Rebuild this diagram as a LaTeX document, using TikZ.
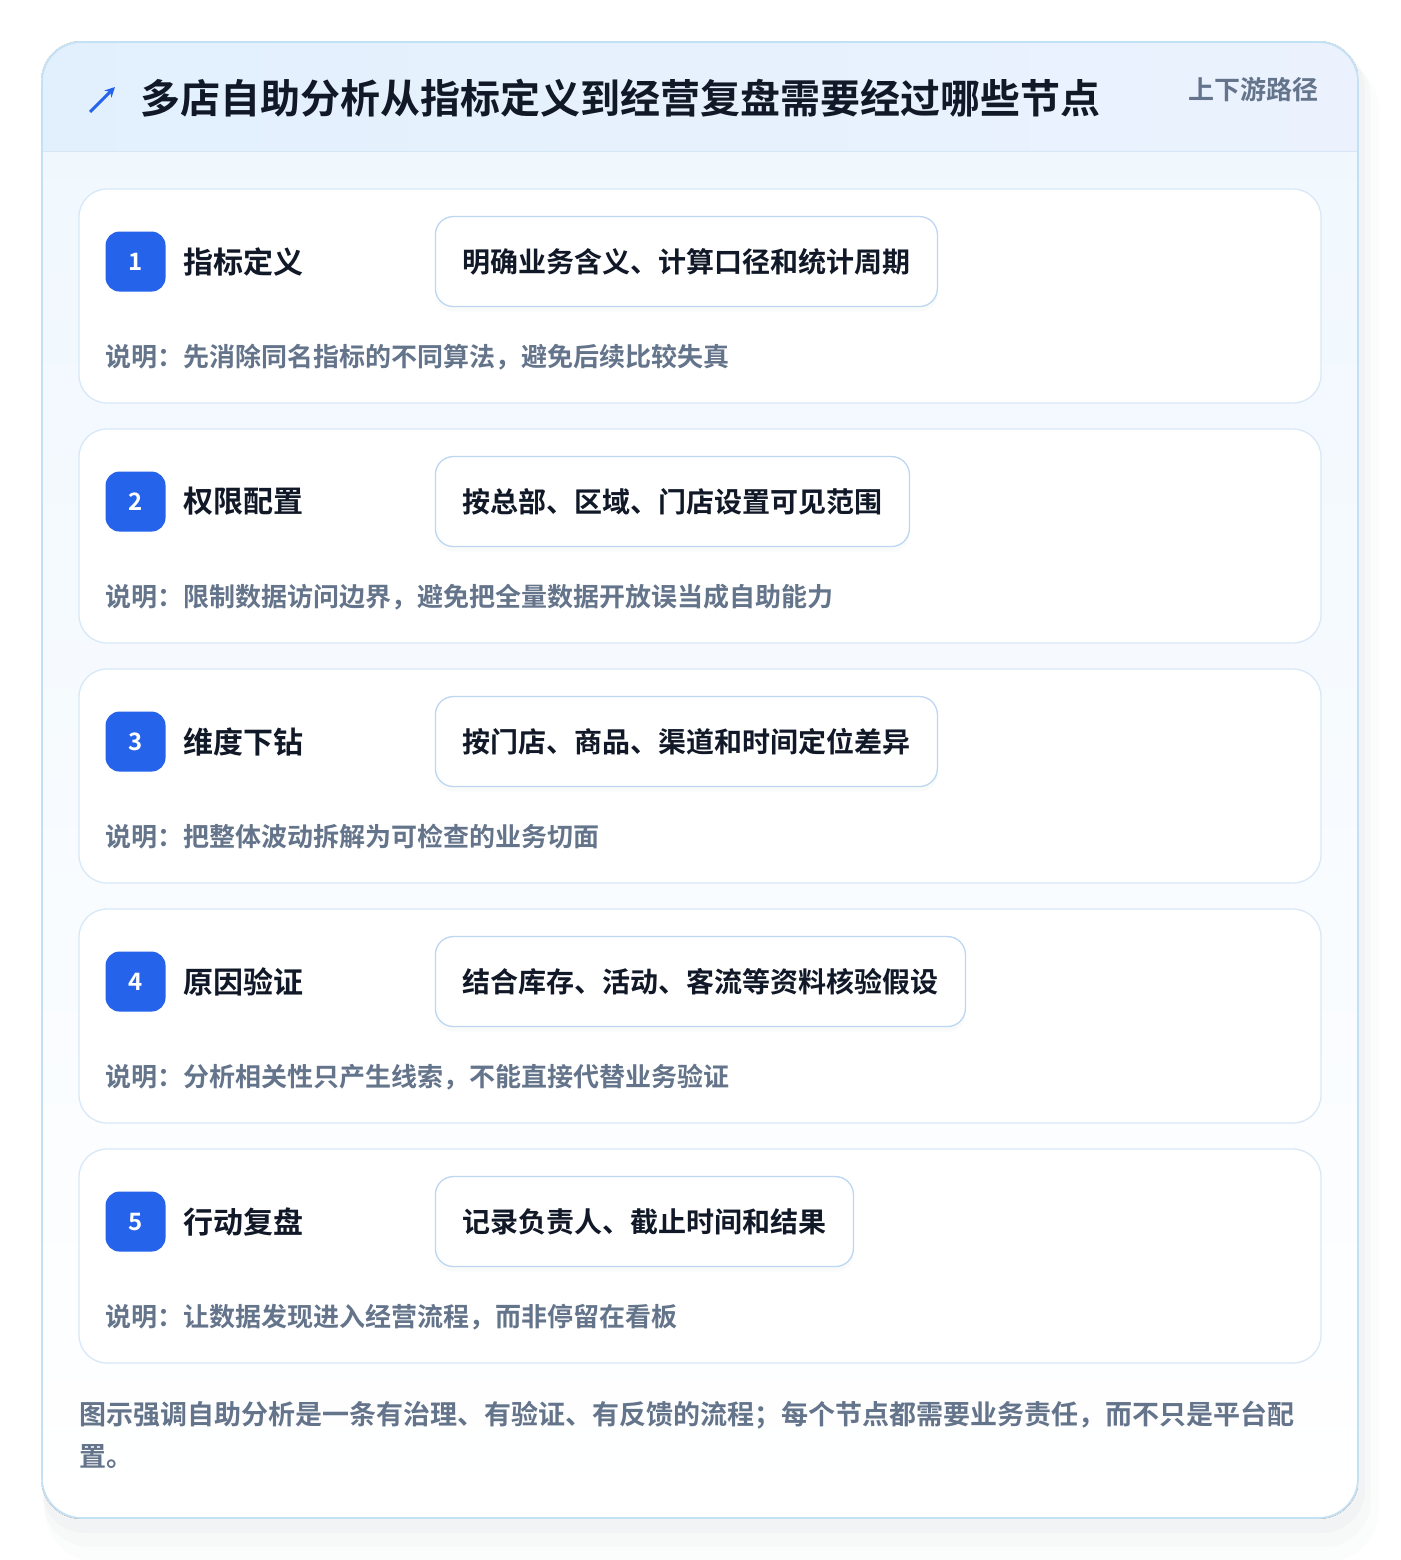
\documentclass[tikz,border=0pt]{standalone}
\usepackage{fontspec}
\setmainfont{Noto Sans CJK SC}[BoldFont=* Bold]
\usepackage{tikz}
\usetikzlibrary{positioning, calc, shadows, arrows.meta}
\definecolor{ink}{HTML}{111827}
\definecolor{muted}{HTML}{64748B}
\definecolor{badgeblue}{HTML}{2563EB}
\definecolor{framecol}{HTML}{C3E1F5}
\definecolor{cardline}{HTML}{D9E8F7}
\definecolor{tagline}{HTML}{BDD6F2}
\definecolor{headl}{HTML}{E2F0FD}
\definecolor{headr}{HTML}{EBF2FE}
\definecolor{headline}{HTML}{D5E6F6}
\definecolor{bodytop}{HTML}{EFF7FE}
\definecolor{shadowcol}{HTML}{9CA3AF}
\tikzstyle{frame} = [rectangle, rounded corners=40pt, minimum width=1316pt, minimum height=1476pt, draw=framecol, line width=1.6pt]
\tikzstyle{band} = [rectangle, minimum width=1316pt, minimum height=110pt, inner sep=0pt, left color=headl, right color=headr]
\tikzstyle{heading} = [inner sep=0pt, anchor=west, text=ink, font=\fontsize{40}{40}\selectfont\bfseries]
\tikzstyle{subhead} = [inner sep=0pt, anchor=west, text=muted, font=\fontsize{26}{26}\selectfont\bfseries]
\tikzstyle{card} = [rectangle, rounded corners=28pt, minimum width=1242pt, minimum height=214pt, draw=cardline, line width=1.3pt, fill=white]
\tikzstyle{badge} = [rectangle, rounded corners=14pt, minimum size=60pt, inner sep=0pt, fill=badgeblue, text=white, font=\fontsize{24}{24}\selectfont\bfseries]
\tikzstyle{steptitle} = [inner sep=0pt, anchor=west, text=ink, font=\fontsize{30}{30}\selectfont\bfseries]
\tikzstyle{tag} = [rectangle, rounded corners=18pt, minimum height=90pt, inner xsep=27pt, inner ysep=0pt, draw=tagline, line width=1.3pt, fill=white, anchor=west, text=ink, font=\fontsize{28}{28}\selectfont\bfseries, drop shadow={shadow xshift=0pt, shadow yshift=-5pt, opacity=0.05, fill=shadowcol}]
\tikzstyle{note} = [inner sep=0pt, anchor=west, text=muted, font=\fontsize{26}{26}\selectfont\bfseries]
\tikzstyle{footer} = [inner sep=0pt, anchor=west, text=muted, font=\fontsize{27}{27}\selectfont\bfseries]
\tikzstyle{icon} = [line width=3pt, draw=badgeblue, -{Stealth[length=10pt,width=10pt]}]

\begin{document}
\begin{tikzpicture}[x=1pt, y=-1pt, node distance=240pt]
    \useasboundingbox (0,0) rectangle (1400,1560);
    \fill [white] (0,0) rectangle (1400,1560);
    \node (frame) [frame, draw=none] at (700,780) {};
    % soft shadow
    \fill [shadowcol, opacity=0.03, rounded corners=50pt] ([shift={(4,18)}]frame.north west) rectangle ([shift={(20,42)}]frame.south east);
    \fill [shadowcol, opacity=0.04, rounded corners=46pt] ([shift={(2,10)}]frame.north west) rectangle ([shift={(12,28)}]frame.south east);
    \fill [shadowcol, opacity=0.05, rounded corners=42pt] ([shift={(1,5)}]frame.north west) rectangle ([shift={(6,14)}]frame.south east);
    \begin{scope}
        \clip [rounded corners=40pt] (frame.north west) rectangle (frame.south east);
        \fill [top color=bodytop, bottom color=white] (frame.north west) rectangle (frame.south east);
        \node (header) [band, below=0pt of frame.north] {};
        \draw [headline, line width=1.5pt] (header.south west) -- (header.south east);
    \end{scope}
    \node (frameline) [frame] at (700,780) {};

    \coordinate (icontail) at (90,112);
    \coordinate (iconhead) at (115,87);
    \draw [icon] (icontail) -- (iconhead);
    \node (title) [heading] at (140,98) {多店自助分析从指标定义到经营复盘需要经过哪些节点};
    \node (path) [subhead] at (1188,90) {上下游路径};

    \node (card1) [card] at (700,296) {};
    \node (card2) [card, below of=card1] {};
    \node (card3) [card, below of=card2] {};
    \node (card4) [card, below of=card3] {};
    \node (card5) [card, below of=card4] {};

    \node (badge1) [badge, below right=43pt and 27pt of card1.north west] {1};
    \node (step1) [steptitle, right=18pt of badge1] {指标定义};
    \node (tag1) [tag, right=269pt of badge1] {明确业务含义、计算口径和统计周期};
    \node (note1) [note] at ([yshift=-65pt]badge1.south west) {说明：先消除同名指标的不同算法，避免后续比较失真};

    \node (badge2) [badge, below right=43pt and 27pt of card2.north west] {2};
    \node (step2) [steptitle, right=18pt of badge2] {权限配置};
    \node (tag2) [tag, right=269pt of badge2] {按总部、区域、门店设置可见范围};
    \node (note2) [note] at ([yshift=-65pt]badge2.south west) {说明：限制数据访问边界，避免把全量数据开放误当成自助能力};

    \node (badge3) [badge, below right=43pt and 27pt of card3.north west] {3};
    \node (step3) [steptitle, right=18pt of badge3] {维度下钻};
    \node (tag3) [tag, right=269pt of badge3] {按门店、商品、渠道和时间定位差异};
    \node (note3) [note] at ([yshift=-65pt]badge3.south west) {说明：把整体波动拆解为可检查的业务切面};

    \node (badge4) [badge, below right=43pt and 27pt of card4.north west] {4};
    \node (step4) [steptitle, right=18pt of badge4] {原因验证};
    \node (tag4) [tag, right=269pt of badge4] {结合库存、活动、客流等资料核验假设};
    \node (note4) [note] at ([yshift=-65pt]badge4.south west) {说明：分析相关性只产生线索，不能直接代替业务验证};

    \node (badge5) [badge, below right=43pt and 27pt of card5.north west] {5};
    \node (step5) [steptitle, right=18pt of badge5] {行动复盘};
    \node (tag5) [tag, right=269pt of badge5] {记录负责人、截止时间和结果};
    \node (note5) [note] at ([yshift=-65pt]badge5.south west) {说明：让数据发现进入经营流程，而非停留在看板};

    \node (foot1) [footer] at (79,1415) {图示强调自助分析是一条有治理、有验证、有反馈的流程；每个节点都需要业务责任，而不只是平台配};
    \node (foot2) [footer] at ([yshift=-42pt]foot1.west) {置。};
\end{tikzpicture}
\end{document}
